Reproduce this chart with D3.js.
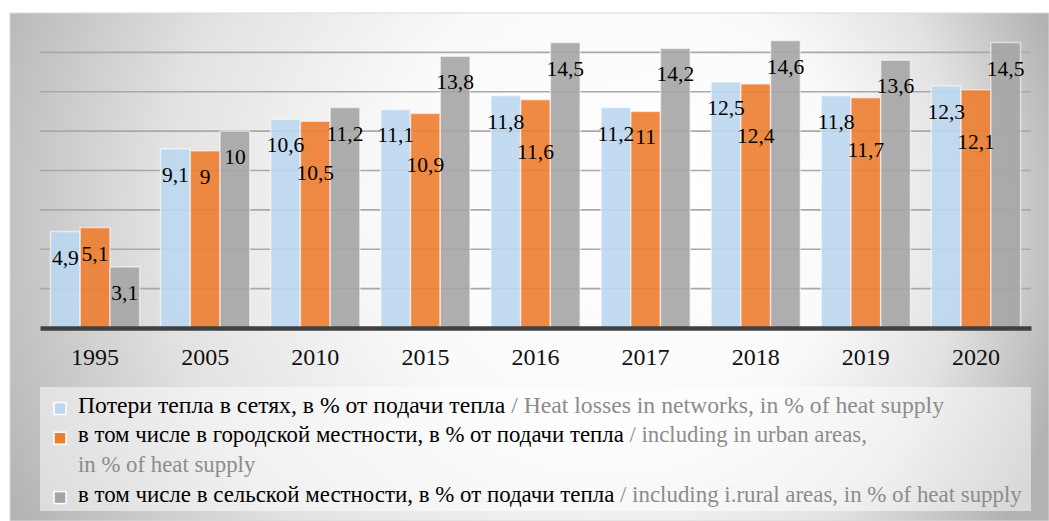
<!DOCTYPE html>
<html>
<head>
<meta charset="utf-8">
<script src="https://cdn.jsdelivr.net/npm/d3@7"></script>
<style>
  html, body { margin: 0; padding: 0; background: #ffffff; }
  svg { display: block; }
</style>
</head>
<body>
<svg id="chart" width="1049" height="521"></svg>
<script>
// Heat losses in heat networks, % of heat supply
const years = ["1995", "2005", "2010", "2015", "2016", "2017", "2018", "2019", "2020"];
const lossTotal = [4.9, 9.1, 10.6, 11.1, 11.8, 11.2, 12.5, 11.8, 12.3];
const lossUrban = [5.1, 9, 10.5, 10.9, 11.6, 11, 12.4, 11.7, 12.1];
const lossRural = [3.1, 10, 11.2, 13.8, 14.5, 14.2, 14.6, 13.6, 14.5];
const gridValues = [2, 4, 6, 8, 10, 12, 14];

const seriesKeys = ["total", "urban", "rural"];
const seriesValues = [lossTotal, lossUrban, lossRural];
const seriesColors = ["#bdd7ee", "#ed7d31", "#a5a5a5"];
const legendRu = [
  "Потери тепла в сетях, в % от подачи тепла",
  "в том числе в городской местности, в % от подачи тепла",
  "в том числе в сельской местности, в % от подачи тепла"
];
const legendEn = [
  ["Heat losses in networks, in % of heat supply"],
  ["including in urban areas,", "in % of heat supply"],
  ["including i.rural areas, in % of heat supply"]
];

const FONT = "\"Liberation Serif\", \"Times New Roman\", serif";
const W = 1049, H = 521;
const svg = d3.select("#chart").attr("font-family", FONT);
const defs = svg.append("defs");

// soft radial backdrop of the chart panel
const bg = defs.append("radialGradient")
  .attr("id", "panelFill")
  .attr("gradientUnits", "userSpaceOnUse")
  .attr("cx", 508).attr("cy", 230).attr("r", 575)
  .attr("fx", 690).attr("fy", 190);
bg.append("stop").attr("offset", 0).attr("stop-color", "#ffffff");
bg.append("stop").attr("offset", 0.4).attr("stop-color", "#fafafa");
bg.append("stop").attr("offset", 0.7).attr("stop-color", "#e2e2e2");
bg.append("stop").attr("offset", 1).attr("stop-color", "#b2b2b2");

svg.append("rect")
  .attr("x", 10).attr("y", 13).attr("width", W - 10).attr("height", H - 13)
  .attr("fill", "url(#panelFill)")
  .attr("stroke", "#d9d9d9").attr("stroke-width", 1);

const plotLeft = 40, plotRight = 1031, plotTop = 13, plotBottom = 328;

const x = d3.scaleBand().domain(years).range([plotLeft, plotRight])
  .paddingInner(0.19).paddingOuter(0.095);
const xs = d3.scaleBand().domain(seriesKeys).range([0, x.bandwidth()]);
const y = d3.scaleLinear().domain([0, 16]).range([plotBottom, plotTop]);

// horizontal gridlines
svg.append("g").selectAll("line").data(gridValues).join("line")
  .attr("x1", plotLeft).attr("x2", plotRight)
  .attr("y1", d => y(d)).attr("y2", d => y(d))
  .attr("stroke", "#a9a9a9").attr("stroke-width", 1.6);

const rows = years.map((yr, i) => ({
  year: yr,
  bars: seriesKeys.map((k, s) => ({ year: yr, key: k, s, value: seriesValues[s][i] }))
}));

const groups = svg.append("g").selectAll("g").data(rows).join("g")
  .attr("transform", d => `translate(${x(d.year)},0)`);

groups.selectAll("rect").data(d => d.bars).join("rect")
  .attr("x", d => xs(d.key))
  .attr("y", d => y(d.value))
  .attr("width", xs.bandwidth())
  .attr("height", d => y(0) - y(d.value))
  .attr("fill", d => seriesColors[d.s])
  .attr("fill-opacity", 0.9)
  .attr("stroke", "#ffffff").attr("stroke-opacity", 0.55).attr("stroke-width", 1.5);

// category axis line and year labels
const xAxis = d3.axisBottom(x).tickSize(0).tickPadding(0);
const axisG = svg.append("g").attr("transform", `translate(0,${plotBottom})`).call(xAxis);
axisG.attr("font-family", FONT).attr("font-size", 24);
axisG.select(".domain").attr("stroke", "#404040").attr("stroke-width", 4.5);
axisG.selectAll(".tick text")
  .attr("fill", "#111")
  .attr("dy", 0).attr("y", 37);

// value labels: sit just inside the bar top, pushed down one line on overlap
const fmt = v => String(v).replace(".", ",");
const labelDrop = 26, lineStep = 26;
groups.each(function (row) {
  const g = d3.select(this);
  let prev = null;
  row.bars.forEach(b => {
    const cx = xs(b.key) + xs.bandwidth() / 2;
    let cy = y(b.value) + labelDrop;
    const t = g.append("text")
      .attr("x", cx).attr("y", cy)
      .attr("text-anchor", "middle").attr("dominant-baseline", "central")
      .attr("font-size", 21.5).attr("fill", "#000")
      .text(fmt(b.value));
    const w = t.node().getComputedTextLength();
    const box = { l: cx - w / 2, r: cx + w / 2, t: cy - 9, b: cy + 9 };
    if (prev && box.l < prev.r && box.t < prev.b && box.b > prev.t) {
      cy += lineStep;
      t.attr("y", cy);
      box.t += lineStep; box.b += lineStep;
    }
    prev = box;
  });
});

// legend
const legTop = 387;
svg.append("rect")
  .attr("x", plotLeft).attr("y", legTop).attr("width", plotRight - plotLeft).attr("height", 124)
  .attr("fill", "#ffffff").attr("fill-opacity", 0.5);

const legendFonts = [23.7, 22.8, 22.9], legendLine = 29.7;
let baseY = 412.5;
const legG = svg.append("g");
seriesKeys.forEach((k, s) => {
  legG.append("rect")
    .attr("x", 54).attr("y", baseY - 10).attr("width", 12).attr("height", 12)
    .attr("fill", seriesColors[s])
    .attr("stroke", "#ffffff").attr("stroke-width", 1.5);
  const en = legendEn[s];
  const t = legG.append("text").attr("x", 78).attr("y", baseY).attr("font-size", legendFonts[s]);
  t.append("tspan").attr("fill", "#000").text(legendRu[s]);
  t.append("tspan").attr("fill", "#8c8c8c").text(" / " + en[0]);
  baseY += legendLine;
  for (let j = 1; j < en.length; j++) {
    legG.append("text").attr("x", 78).attr("y", baseY).attr("font-size", legendFonts[s])
      .attr("fill", "#8c8c8c").text(en[j]);
    baseY += legendLine;
  }
});
</script>
</body>
</html>
